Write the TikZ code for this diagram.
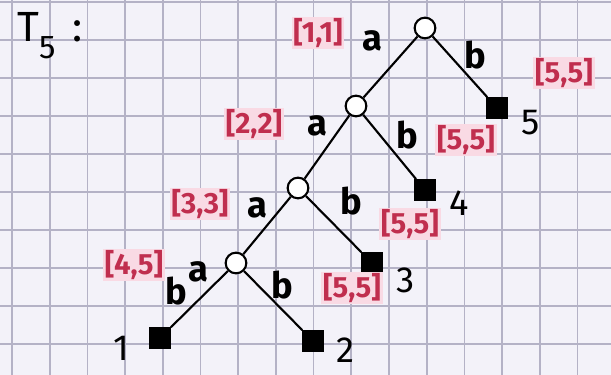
\documentclass[tikz,border=0pt]{standalone}
\usepackage{fontspec}
\setmainfont{Fira Sans}
\usetikzlibrary{positioning}
\definecolor{gridLine}{RGB}{180,178,198}
\definecolor{paperBg}{RGB}{243,242,249}
\definecolor{markRed}{RGB}{192,46,78}
\definecolor{markPink}{RGB}{249,218,228}

\begin{document}
\begin{tikzpicture}[x=0.03cm,y=-0.03cm,
  innerNode/.style={circle,draw,fill=white,line width=1.8pt,minimum size=0.62cm,inner sep=0pt},
  leafNode/.style={rectangle,fill=black,minimum size=0.64cm,inner sep=0pt},
  treeEdge/.style={line width=1.8pt},
  intervalTag/.style={text=markRed,fill=markPink,inner sep=1.5pt,font=\fontsize{25}{27}\selectfont\bfseries},
  edgeLetter/.style={font=\fontsize{31}{33}\selectfont\bfseries},
  leafNumber/.style={font=\fontsize{31}{33}\selectfont}]
% paper
\fill[paperBg] (0,0) rectangle (611,375);
\useasboundingbox (0,0) rectangle (611,375);
\foreach \gx in {0,...,15} \draw[gridLine,line width=1.5pt] ({12+37.7*\gx},0) -- ++(0,375);
\foreach \gy in {0,...,9} \draw[gridLine,line width=1.5pt] (0,{2+38*\gy}) -- ++(611,0);

\node[font=\fontsize{36}{38}\selectfont] (title) at (50,36) {T\raisebox{-0.4em}{\fontsize{28}{30}\selectfont 5}\hspace{0.4em}:};

% tree
\node[innerNode] (root) at (425,28) {};
\node[innerNode] (na) at (356,106) {};
\node[innerNode] (naa) at (298,188) {};
\node[innerNode] (naaa) at (236,263) {};
\node[leafNode] (leafFive) at (497,108) {};
\node[leafNode] (leafFour) at (425,190) {};
\node[leafNode] (leafThree) at (372,263) {};
\node[leafNode] (leafOne) at (160,338) {};
\node[leafNode] (leafTwo) at (313,341) {};

\draw[treeEdge] (root) -- (na);
\draw[treeEdge] (root) -- (leafFive);
\draw[treeEdge] (na) -- (naa);
\draw[treeEdge] (na) -- (leafFour);
\draw[treeEdge] (naa) -- (naaa);
\draw[treeEdge] (naa) -- (leafThree);
\draw[treeEdge] (naaa) -- (leafOne);
\draw[treeEdge] (naaa) -- (leafTwo);

% edge letters
\node[edgeLetter] (aRoot) at (372,41) {a};
\node[edgeLetter] (bRoot) at (475,55) {b};
\node[edgeLetter] (aNa) at (317,126) {a};
\node[edgeLetter] (bNa) at (407,135) {b};
\node[edgeLetter] (aNaa) at (257,208) {a};
\node[edgeLetter] (bNaa) at (351,201) {b};
\node[edgeLetter] (aNaaa) at (198,272) {a};
\node[edgeLetter] (bNaaaL) at (176,291) {b};
\node[edgeLetter] (bNaaaR) at (282,285) {b};

% intervals
\node[intervalTag] (rRoot) at (318,33) {[1,1]};
\node[intervalTag] (rNa) at (254,124) {[2,2]};
\node[intervalTag] (rNaa) at (200,204) {[3,3]};
\node[intervalTag] (rNaaa) at (134,265) {[4,5]};
\node[intervalTag] (rFive) at (564,73) {[5,5]};
\node[intervalTag] (rFour) at (466,140) {[5,5]};
\node[intervalTag] (rThree) at (410,224) {[5,5]};
\node[intervalTag] (rTwo) at (352,288) {[5,5]};

% leaf numbers
\node[leafNumber] (nFive) at (531,123) {5};
\node[leafNumber] (nFour) at (459,203) {4};
\node[leafNumber] (nThree) at (406,280) {3};
\node[leafNumber] (nOne) at (121,348) {1};
\node[leafNumber] (nTwo) at (345,350) {2};
\end{tikzpicture}
\end{document}
